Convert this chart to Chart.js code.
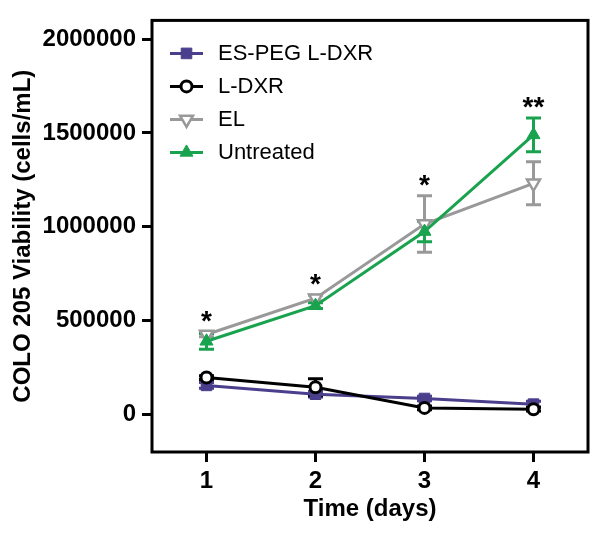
<!DOCTYPE html>
<html>
<head>
<meta charset="utf-8">
<script src="https://cdn.jsdelivr.net/npm/chart.js@4"></script>
<style>
    body { margin: 0; background: #fff; }
    canvas { display: block; }
</style>
</head>
<body>
<canvas id="viabilityChart" width="600" height="542"></canvas>
<script>
// Datos
const days = [1, 2, 3, 4];
const yTicks = [0, 500000, 1000000, 1500000, 2000000];
const seriesNames = ['ES-PEG L-DXR', 'L-DXR', 'EL', 'Untreated'];
const esPegValues = [155000, 108000, 85000, 55000];
const esPegErrors = [15000, 15000, 12000, 15000];
const ldxrValues = [197000, 145000, 35000, 28000];
const ldxrErrors = [10000, 45000, 10000, 10000];
const elValues = [426000, 620000, 1015000, 1232000];
const elErrors = [12000, 15000, 150000, 115000];
const untreatedValues = [390000, 580000, 975000, 1490000];
const untreatedErrors = [42000, 15000, 55000, 90000];
const significance = ['*', '*', '*', '**'];

const FONT = "'Liberation Sans', Arial, sans-serif";

function points(values) {
    return days.map((d, i) => ({ x: d, y: values[i] }));
}

// Barras de error (debajo de los marcadores)
const errorBars = {
    id: 'errorBars',
    beforeDatasetsDraw(chart) {
        const ctx = chart.ctx;
        const y = chart.scales.y;
        chart.data.datasets.forEach((ds, i) => {
            const meta = chart.getDatasetMeta(i);
            ctx.save();
            ctx.strokeStyle = ds.borderColor;
            ctx.lineWidth = 3;
            meta.data.forEach((pt, j) => {
                const top = y.getPixelForValue(ds.data[j].y + ds.errors[j]);
                const bot = y.getPixelForValue(ds.data[j].y - ds.errors[j]);
                ctx.beginPath();
                ctx.moveTo(pt.x, top); ctx.lineTo(pt.x, bot);
                ctx.moveTo(pt.x - 7.5, top); ctx.lineTo(pt.x + 7.5, top);
                ctx.moveTo(pt.x - 7.5, bot); ctx.lineTo(pt.x + 7.5, bot);
                ctx.stroke();
            });
            ctx.restore();
        });
    }
};

// Marco, asteriscos y leyenda
const decorations = {
    id: 'decorations',
    afterDraw(chart) {
        const ctx = chart.ctx;
        const area = chart.chartArea;
        const x = chart.scales.x;
        const y = chart.scales.y;

        ctx.save();
        ctx.strokeStyle = '#000';
        ctx.lineWidth = 3;
        ctx.strokeRect(area.left, area.top, area.right - area.left, area.bottom - area.top);

        // asteriscos sobre la barra de error más alta
        ctx.fillStyle = '#000';
        ctx.font = 'bold 28px ' + FONT;
        ctx.textAlign = 'center';
        ctx.textBaseline = 'alphabetic';
        significance.forEach((s, j) => {
            let top = Infinity;
            chart.data.datasets.forEach(ds => {
                top = Math.min(top, y.getPixelForValue(ds.data[j].y + ds.errors[j]));
            });
            ctx.fillText(s, x.getPixelForValue(days[j]), top - 2);
        });

        // leyenda
        ctx.font = '22px ' + FONT;
        ctx.textAlign = 'left';
        ctx.textBaseline = 'middle';
        chart.data.datasets.forEach((ds, i) => {
            const cy = area.top + 33 + i * 33;
            const x0 = area.left + 18;
            const x1 = area.left + 51;
            ctx.strokeStyle = ds.borderColor;
            ctx.lineWidth = 3;
            ctx.beginPath();
            ctx.moveTo(x0, cy); ctx.lineTo(x1, cy);
            ctx.stroke();
            ctx.fillStyle = ds.pointBackgroundColor;
            ctx.strokeStyle = ds.borderColor;
            ctx.lineWidth = ds.pointBorderWidth;
            Chart.helpers.drawPoint(ctx, {
                pointStyle: ds.pointStyle,
                rotation: ds.pointRotation || 0,
                radius: ds.pointRadius,
                borderWidth: ds.pointBorderWidth
            }, (x0 + x1) / 2, cy);
            ctx.fillStyle = '#000';
            ctx.fillText(ds.label, area.left + 66, cy + 1);
        });
        ctx.restore();
    }
};

const ctx = document.getElementById('viabilityChart').getContext('2d');
new Chart(ctx, {
    type: 'line',
    data: {
        datasets: [{
            label: seriesNames[0],
            data: points(esPegValues),
            errors: esPegErrors,
            borderColor: '#4a3f8c',
            pointBackgroundColor: '#4a3f8c',
            pointStyle: 'rect',
            pointRadius: 7.5,
            pointBorderWidth: 1,
            borderWidth: 3,
            order: 3
        }, {
            label: seriesNames[1],
            data: points(ldxrValues),
            errors: ldxrErrors,
            borderColor: '#000000',
            pointBackgroundColor: '#ffffff',
            pointStyle: 'circle',
            pointRadius: 5.5,
            pointBorderWidth: 3,
            borderWidth: 3,
            order: 1
        }, {
            label: seriesNames[2],
            data: points(elValues),
            errors: elErrors,
            borderColor: '#999999',
            pointBackgroundColor: '#ffffff',
            pointStyle: 'triangle',
            pointRotation: 180,
            pointRadius: 7.5,
            pointBorderWidth: 2.5,
            borderWidth: 3,
            order: 2
        }, {
            label: seriesNames[3],
            data: points(untreatedValues),
            errors: untreatedErrors,
            borderColor: '#19a34f',
            pointBackgroundColor: '#19a34f',
            pointStyle: 'triangle',
            pointRadius: 7.5,
            pointBorderWidth: 1,
            borderWidth: 3,
            order: 0
        }]
    },
    options: {
        responsive: false,
        animation: false,
        events: [],
        layout: { padding: { top: 16, right: 12, bottom: 14, left: 5 } },
        plugins: {
            legend: { display: false },
            tooltip: { enabled: false }
        },
        scales: {
            x: {
                type: 'linear',
                min: 0.5,
                max: 4.5,
                afterBuildTicks: scale => { scale.ticks = days.map(v => ({ value: v })); },
                afterFit: scale => { scale.height = 76; },
                border: { display: false },
                grid: { drawOnChartArea: false, drawTicks: true, tickLength: 10, tickWidth: 3, color: '#000' },
                ticks: { color: '#000', padding: 5, font: { family: FONT, size: 24, weight: 'bold' } },
                title: { display: true, text: 'Time (days)', color: '#000', font: { family: FONT, size: 24, weight: 'bold' } }
            },
            y: {
                min: -200000,
                max: 2100000,
                afterBuildTicks: scale => { scale.ticks = yTicks.map(v => ({ value: v })); },
                afterFit: scale => { scale.width = 147; },
                border: { display: false },
                grid: { drawOnChartArea: false, drawTicks: true, tickLength: 10, tickWidth: 3, color: '#000' },
                ticks: { color: '#000', padding: 6, font: { family: FONT, size: 24, weight: 'bold' }, callback: v => String(v) },
                title: { display: true, text: 'COLO 205 Viability (cells/mL)', color: '#000', font: { family: FONT, size: 24, weight: 'bold' } }
            }
        }
    },
    plugins: [errorBars, decorations]
});
</script>
</body>
</html>
